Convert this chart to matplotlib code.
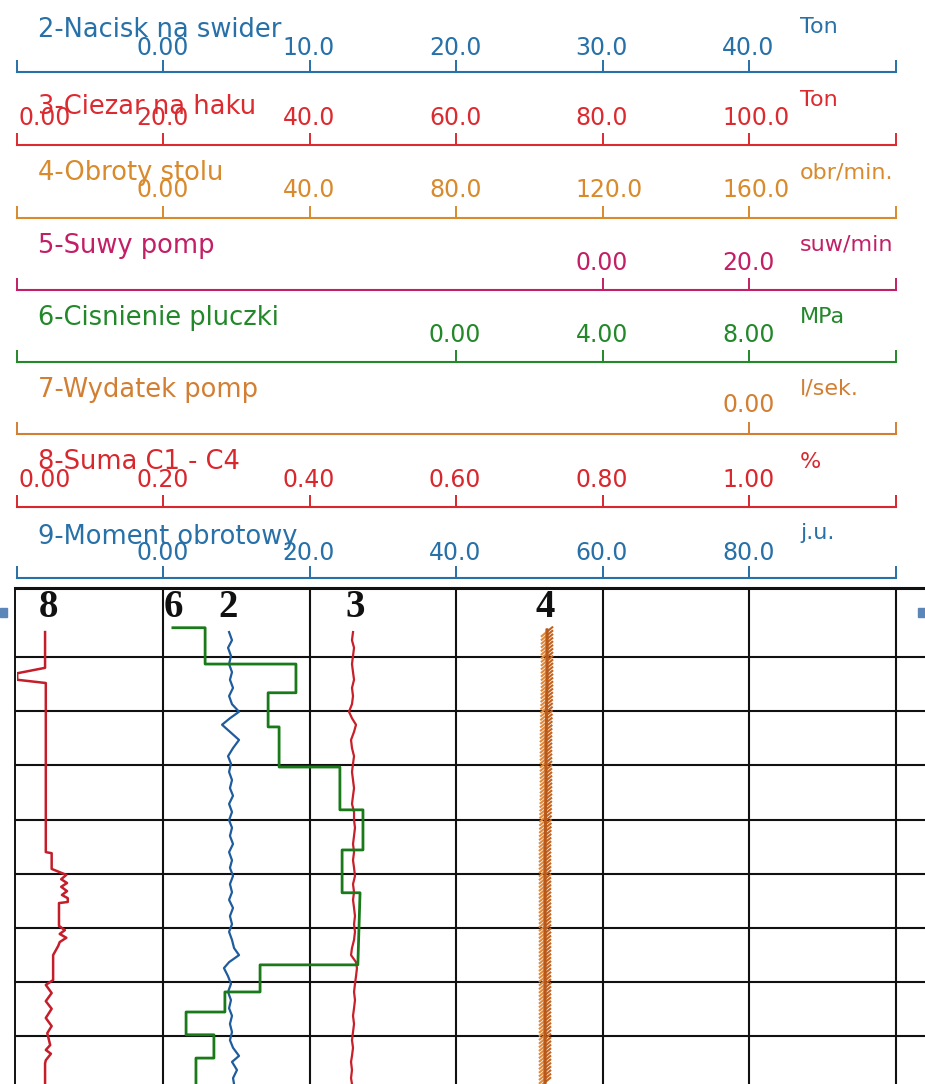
import matplotlib
matplotlib.use("Agg")
import matplotlib.pyplot as plt
import matplotlib.patheffects as pe
from matplotlib.patches import Rectangle

# ---- skale naglowka ----
tytuly = ["2-Nacisk na swider", "3-Ciezar na haku", "4-Obroty stolu", "5-Suwy pomp",
          "6-Cisnienie pluczki", "7-Wydatek pomp", "8-Suma C1 - C4", "9-Moment obrotowy"]
jednostki = ["Ton", "Ton", "obr/min.", "suw/min", "MPa", "l/sek.", "%", "j.u."]
skala_min = [-10, 0, -40, -80, -12, -50, 0.0, -20]
skala_max = [50, 120, 200, 40, 12, 10, 1.2, 100]
ticki = [[0, 10, 20, 30, 40],
         [0, 20, 40, 60, 80, 100],
         [0, 40, 80, 120, 160],
         [0, 20],
         [0, 4, 8],
         [0],
         [0.0, 0.2, 0.4, 0.6, 0.8, 1.0],
         [0, 20, 40, 60, 80]]
etykiety = [["0.00", "10.0", "20.0", "30.0", "40.0"],
            ["0.00", "20.0", "40.0", "60.0", "80.0", "100.0"],
            ["0.00", "40.0", "80.0", "120.0", "160.0"],
            ["0.00", "20.0"],
            ["0.00", "4.00", "8.00"],
            ["0.00"],
            ["0.00", "0.20", "0.40", "0.60", "0.80", "1.00"],
            ["0.00", "20.0", "40.0", "60.0", "80.0"]]

# ---- krzywe (glebokosc w jednostkach siatki, wartosci w jednostkach skal) ----
glebokosc = [-0.46, -0.31, -0.17, -0.02, 0.13, 0.28, 0.42, 0.57, 0.72, 0.87,
             1.01, 1.13, 1.25, 1.38, 1.53, 1.68, 1.83, 1.97, 2.12, 2.27,
             2.42, 2.56, 2.71, 2.86, 3.01, 3.15, 3.30, 3.45, 3.60, 3.75,
             3.89, 4.04, 4.19, 4.34, 4.48, 4.63, 4.78, 4.93, 5.07, 5.22,
             5.37, 5.50, 5.63, 5.74, 5.89, 6.03, 6.18, 6.33, 6.48, 6.62,
             6.77, 6.92, 7.07, 7.21, 7.36, 7.47, 7.62, 7.77, 7.88]
nacisk = [4.51, 4.71, 4.44, 4.64, 4.51, 4.71, 4.57, 4.78, 4.51, 4.71,
          5.19, 4.57, 4.03, 4.57, 5.19, 4.78, 4.44, 4.64, 4.51, 4.71,
          4.57, 4.78, 4.51, 4.71, 4.51, 4.71, 4.57, 4.78, 4.51, 4.71,
          4.57, 4.78, 4.57, 4.71, 4.51, 4.78, 4.57, 4.71, 4.51, 4.71,
          4.85, 5.19, 4.51, 4.16, 4.44, 4.64, 4.44, 4.64, 4.51, 4.71,
          4.57, 4.71, 4.57, 4.78, 5.19, 4.71, 5.05, 4.78, 4.85]
ciezar = [45.94, 45.80, 46.08, 45.94, 45.80, 45.94, 46.08, 45.80, 45.94, 45.80,
          45.39, 45.80, 46.35, 46.08, 45.67, 45.80, 46.08, 45.94, 45.80, 45.94,
          46.08, 45.94, 45.80, 46.08, 46.08, 46.21, 46.08, 45.94, 46.08, 45.94,
          46.08, 46.21, 45.94, 46.08, 45.94, 46.08, 46.21, 46.08, 46.21, 46.08,
          45.80, 45.67, 46.35, 46.48, 46.35, 46.21, 46.08, 46.21, 46.08, 45.94,
          46.08, 45.94, 45.80, 45.94, 45.80, 45.67, 45.80, 45.67, 45.80]

obroty_gl = [-0.50, 0.5, 1.5, 2.5, 3.5, 4.5, 5.5, 6.5, 7.88]
obroty = [104.85, 104.85, 104.57, 104.57, 104.30, 104.30, 104.30, 104.30, 104.30]

cisn_gl = [-0.54, -0.54, 0.13, 0.13, 0.66, 0.66, 1.29, 1.29, 2.03, 2.03, 2.82, 2.82,
           3.56, 3.56, 4.35, 4.35, 5.68, 5.68, 6.18, 6.18, 6.55, 6.55, 6.97, 6.97,
           7.40, 7.40, 7.88]
cisnienie = [-7.73, -6.85, -6.85, -4.37, -4.37, -5.13, -5.13, -4.83, -4.83, -3.17,
             -3.17, -2.54, -2.54, -3.11, -3.11, -2.62, -2.68, -5.35, -5.35, -6.31,
             -6.31, -7.37, -7.37, -6.61, -6.61, -7.10, -7.10]

suma_gl = [-0.46, 0.20, 0.30, 0.42, 0.48, 3.60, 3.62, 3.91, 3.97, 4.02, 4.10, 4.17,
           4.24, 4.32, 4.39, 4.45, 4.52, 4.54, 4.96, 5.04, 5.11, 5.18, 5.26, 5.33,
           5.50, 5.96, 6.05, 6.20, 6.35, 6.49, 6.66, 6.81, 6.94, 7.16, 7.25, 7.32,
           7.44, 7.50, 7.88]
suma = [0.039, 0.039, 0.001, 0.001, 0.040, 0.040, 0.048, 0.048, 0.059, 0.068, 0.061,
        0.069, 0.061, 0.069, 0.062, 0.070, 0.070, 0.058, 0.058, 0.066, 0.059, 0.068,
        0.059, 0.057, 0.050, 0.050, 0.040, 0.048, 0.040, 0.048, 0.040, 0.048, 0.042,
        0.046, 0.040, 0.047, 0.040, 0.039, 0.039]

kolory_skal = ["#2770a8", "#dc2b30", "#d88a2c", "#c21f66", "#23882a", "#d27f33", "#d8282e", "#2770a8"]
linie_y = [72, 145, 218, 290, 362, 434, 507, 578]
dy_tytul = [42, 38, 45, 44, 44, 44, 45, 41]
dy_etyk = [24, 27, 28, 27, 27, 29, 27, 25]

W, H = 925, 1084
fig = plt.figure(figsize=(W / 100, H / 100), dpi=100)

for i in range(8):
    c = kolory_skal[i]
    ax = fig.add_axes([16.5 / W, 1 - linie_y[i] / H, 879 / W, 60 / H])
    ax.set_xlim(skala_min[i], skala_max[i])
    ax.set_ylim(0, 1)
    ax.patch.set_visible(False)
    for s in ["top", "left", "right"]:
        ax.spines[s].set_visible(False)
    ax.spines["bottom"].set_color(c)
    ax.spines["bottom"].set_linewidth(1.5)
    ax.set_xticks(sorted(set([skala_min[i], skala_max[i]] + ticki[i])))
    ax.set_yticks([])
    ax.tick_params(axis="x", direction="in", length=9, width=1.4, color=c, labelbottom=False)
    for v, lab in zip(ticki[i], etykiety[i]):
        dx = 2 if v == skala_min[i] else -27
        ax.annotate(lab, xy=(v, 0), xycoords=ax.get_xaxis_transform(),
                    xytext=(dx, dy_etyk[i]), textcoords="offset pixels",
                    ha="left", va="center", color=c, fontsize=17)
    ax.annotate(tytuly[i], xy=(0, 0), xycoords="axes fraction", xytext=(21.5, dy_tytul[i]),
                textcoords="offset pixels", ha="left", va="center", color=c, fontsize=18.5)
    ax.annotate(jednostki[i], xy=(0, 0), xycoords="axes fraction", xytext=(783.5, 45),
                textcoords="offset pixels", ha="left", va="center", color=c, fontsize=16)

# ---- siatka toru ----
gora = (588 - 657) / 54.2
dol = (1084 - 657) / 54.2
gax = fig.add_axes([15 / W, 0, 910 / W, (H - 588) / H])
gax.set_xlim(-1.5 / 146.5, 908.5 / 146.5)
gax.set_ylim(dol, gora)
gax.set_xticks([1, 2, 3, 4, 5, 6])
gax.set_yticks([0, 1, 2, 3, 4, 5, 6, 7])
gax.grid(True, color="#111111", linewidth=1.5)
gax.tick_params(length=0, labelbottom=False, labelleft=False)
for s in ["right", "bottom"]:
    gax.spines[s].set_visible(False)
gax.spines["top"].set_linewidth(2.2)
gax.spines["left"].set_linewidth(1.4)
gax.spines["top"].set_color("#111111")
gax.spines["left"].set_color("#111111")


def tor(i):
    a = fig.add_axes([16.5 / W, 0, 879 / W, (H - 588) / H], sharey=gax)
    a.set_xlim(skala_min[i], skala_max[i])
    a.set_ylim(dol, gora)
    a.axis("off")
    return a


ax2 = tor(0)
ax2.plot(nacisk, glebokosc, color="#1f5c9e", lw=1.6)
ax3 = tor(1)
ax3.plot(ciezar, glebokosc, color="#c8202a", lw=1.6)
ax4 = tor(2)
ax4.plot(obroty, obroty_gl, color="#b8581a", lw=1.8,
         path_effects=[pe.withTickedStroke(spacing=2.6, angle=130, length=1.9, linewidth=1.5, foreground="#c4621c"),
                       pe.withTickedStroke(spacing=2.6, angle=-50, length=1.9, linewidth=1.5, foreground="#e0893a"),
                       pe.Normal()])
ax6 = tor(4)
ax6.plot(cisnienie, cisn_gl, color="#1a7a1a", lw=2.0)
ax8 = tor(6)
ax8.plot(suma, suma_gl, color="#c41e2a", lw=1.8)

numer = dict(fontsize=28, fontweight="bold", family="Liberation Serif", ha="center", va="center", color="#111111")
ax8.text(0.043, -0.91, "8", **numer)
ax6.text(-7.73, -0.91, "6", **numer)
ax2.text(4.44, -0.91, "2", **numer)
ax3.text(46.3, -0.91, "3", **numer)
ax4.text(104.3, -0.91, "4", **numer)

fig.patches.append(Rectangle((0, 1 - 617 / H), 7 / W, 9 / H, transform=fig.transFigure, color="#5b86b8"))
fig.patches.append(Rectangle((918 / W, 1 - 617 / H), 7 / W, 9 / H, transform=fig.transFigure, color="#5b86b8"))

fig.savefig("out.png", dpi=100)
